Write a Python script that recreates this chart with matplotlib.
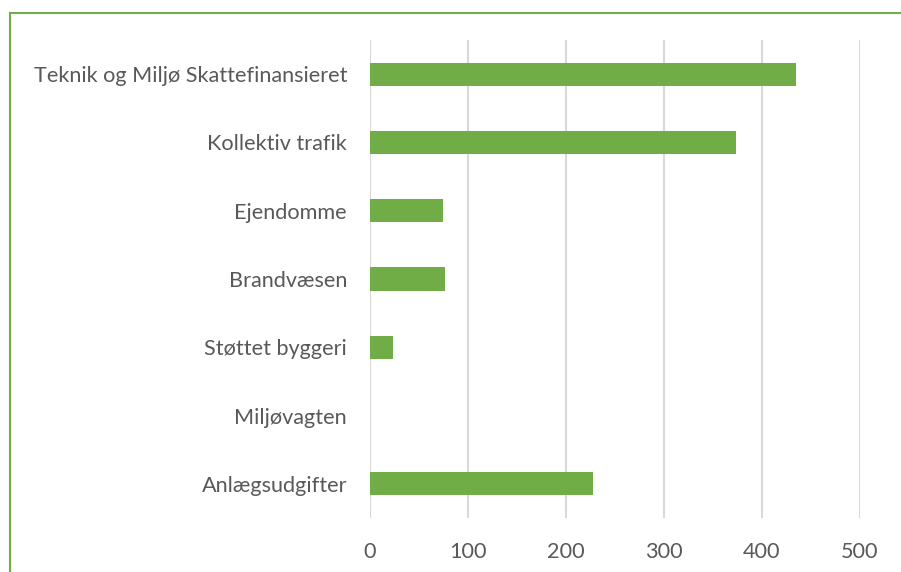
import matplotlib
matplotlib.use("Agg")
import matplotlib.pyplot as plt
from matplotlib.patches import Rectangle

# data
categories = ["Teknik og Miljø Skattefinansieret", "Kollektiv trafik", "Ejendomme",
              "Brandvæsen", "Støttet byggeri", "Miljøvagten", "Anlægsudgifter"]
values = [435, 373.5, 74.5, 76.5, 23.5, 0, 227.5]
xticks = [0, 100, 200, 300, 400, 500]

GREEN = "#70AD47"
GRID = "#D9D9D9"
TEXT = "#595959"

plt.rcParams["font.family"] = ["Lato", "DejaVu Sans"]

fig = plt.figure(figsize=(9.01, 5.72), dpi=100)

# outer chart border (cropped at right and bottom in the reference)
fig.patches.append(Rectangle((10 / 901, -0.1), 1.2, 1 - 12.5 / 572 + 0.1,
                             transform=fig.transFigure, fill=False,
                             edgecolor=GREEN, linewidth=1.5))

ax = fig.add_axes([370 / 901, 1 - 518 / 572, 490 / 901, 478 / 572])
pos = list(range(len(categories)))
ax.barh(pos, values, height=0.34, color=GREEN, zorder=3)

ax.set_ylim(len(categories) - 0.5, -0.5)
ax.set_xlim(0, 500)
ax.set_xticks(xticks)
ax.set_yticks(pos)
ax.set_yticklabels(categories)

ax.xaxis.grid(True, color=GRID, linewidth=1.5, zorder=0)
ax.set_axisbelow(True)
for s in ax.spines.values():
    s.set_visible(False)
ax.tick_params(axis="both", length=0, colors=TEXT, labelsize=15.6)
ax.tick_params(axis="y", pad=16.5)
ax.tick_params(axis="x", pad=17)

fig.savefig("out.png", dpi=100)
